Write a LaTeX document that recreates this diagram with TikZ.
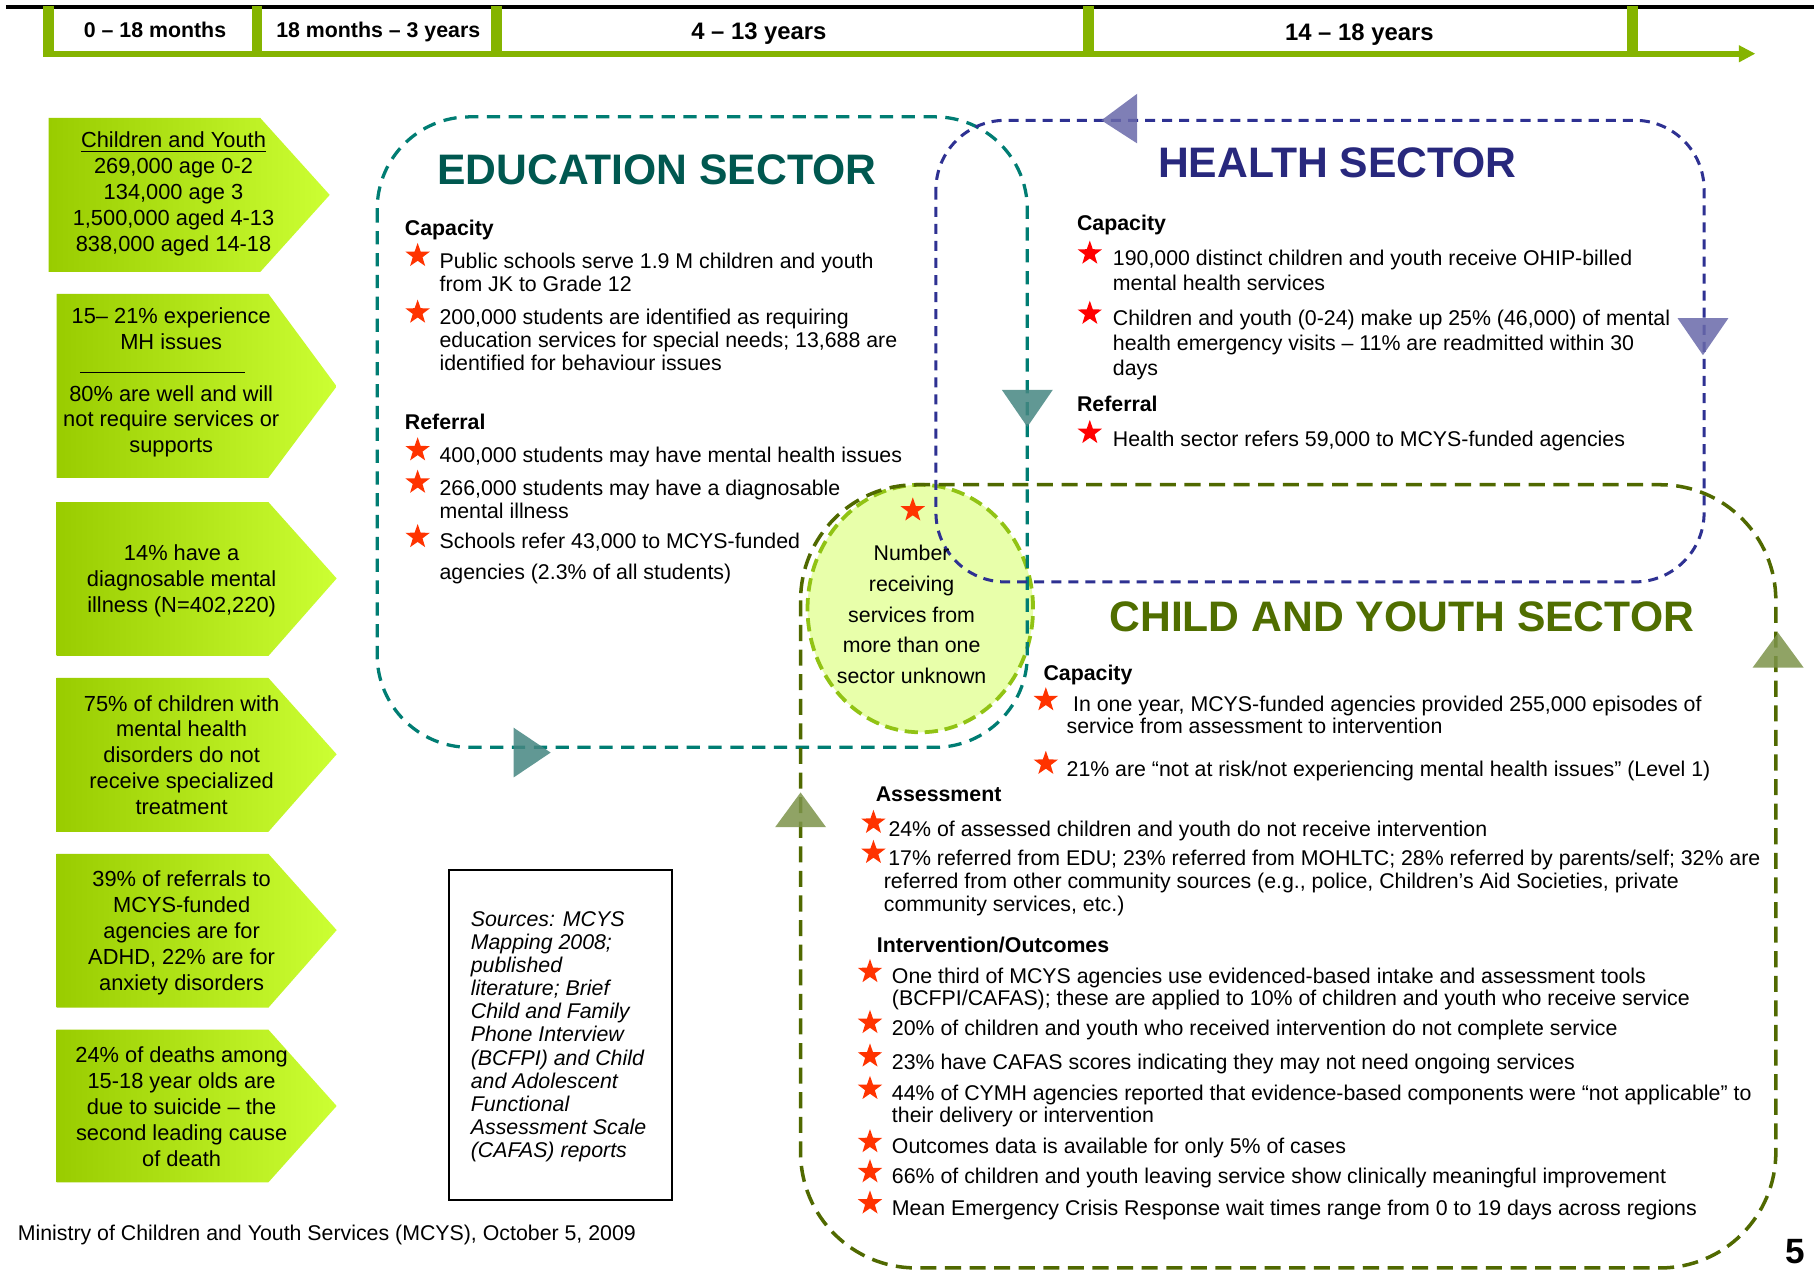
\documentclass[tikz,border=0pt]{standalone}
\usepackage{fontspec}
\setmainfont{Liberation Sans}
\usetikzlibrary{shapes.geometric}
\definecolor{tlgreen}{RGB}{133,180,0}
\definecolor{eduline}{RGB}{0,125,115}
\definecolor{edutitle}{RGB}{0,88,80}
\definecolor{edutri}{RGB}{70,135,130}
\definecolor{hline}{RGB}{46,49,146}
\definecolor{htitle}{RGB}{40,40,125}
\definecolor{htri}{RGB}{105,105,170}
\definecolor{cline}{RGB}{80,105,0}
\definecolor{ctitle}{RGB}{80,110,0}
\definecolor{ctri}{RGB}{125,148,75}
\definecolor{ellfill}{RGB}{232,255,170}
\definecolor{ellline}{RGB}{145,195,20}
\definecolor{stara}{RGB}{255,51,0}
\definecolor{starb}{RGB}{255,0,0}
\definecolor{arrowL}{RGB}{153,204,0}
\definecolor{arrowR}{RGB}{204,255,51}
\begin{document}
\begin{tikzpicture}[x=0.0162cm,y=-0.0162cm,
  txt/.style={inner sep=0pt,outer sep=0pt,anchor=north west,align=left,font=\fontsize{8.5}{9.2}\selectfont},
  ctxt/.style={inner sep=0pt,outer sep=0pt,anchor=north,align=center,font=\fontsize{8.7}{10.3}\selectfont},
  head/.style={inner sep=0pt,outer sep=0pt,anchor=base west,font=\fontsize{8.5}{10}\selectfont\bfseries},
  sectitle/.style={inner sep=0pt,outer sep=0pt,anchor=west,font=\fontsize{17}{20}\selectfont\bfseries},
  tlsmall/.style={inner sep=0pt,anchor=base,font=\fontsize{8.5}{10}\selectfont\bfseries},
  tlbig/.style={inner sep=0pt,anchor=base,font=\fontsize{9.5}{11}\selectfont\bfseries},
  bullet/.style={star,star points=5,star point ratio=2.5,inner sep=0pt,minimum size=10.2pt,fill=stara},
  larrow/.style={left color=arrowL,right color=arrowR},
  loopedu/.style={eduline,line width=1.3pt,dash pattern=on 5.3pt off 3.4pt,rounded corners=1.296cm},
  loophealth/.style={hline,line width=1.2pt,dash pattern=on 4pt off 2.8pt,rounded corners=0.972cm},
  loopchild/.style={cline,line width=1.4pt,dash pattern=on 6.4pt off 3.4pt,rounded corners=1.62cm},
  tri/.style={fill opacity=0.85}
]
\useasboundingbox (0,0) rectangle (1568,1098);
\fill[white] (0,0) rectangle (1568,1098);

% ---------- timeline ----------
\draw[black,line width=1.7pt] (5,6.2) -- (1568,6.2);
\draw[tlgreen,line width=2.4pt] (37,46.4) -- (1504,46.4);
\fill[tlgreen] (1503,39) -- (1517,46.4) -- (1503,54) -- cycle;
\foreach \tx in {42,222,429,941,1411}{
  \draw[tlgreen,line width=4.2pt] (\tx,5) -- (\tx,49);
}
\node[tlsmall] (t1) at (134,32.6) {0 – 18 months};
\node[tlsmall] (t2) at (327,32.6) {18 months – 3 years};
\node[tlbig] (t3) at (656,34.4) {4 – 13 years};
\node[tlbig] (t4) at (1175,34.9) {14 – 18 years};

% ---------- left arrows ----------
\shade[larrow] (42,102) -- (225,102) -- (285,168.5) -- (225,235) -- (42,235) -- cycle;
\shade[larrow] (49,254) -- (232,254) -- (291,334) -- (232,413) -- (49,413) -- cycle;
\shade[larrow] (49,434) -- (232,434) -- (291,500) -- (232,567) -- (49,567) -- cycle;
\shade[larrow] (49,586) -- (232,586) -- (291,652) -- (232,719) -- (49,719) -- cycle;
\shade[larrow] (49,738) -- (232,738) -- (291,804) -- (232,871) -- (49,871) -- cycle;
\shade[larrow] (49,890) -- (232,890) -- (291,956) -- (232,1022) -- (49,1022) -- cycle;

\node[ctxt] (b1) at (150,114) {\underline{Children and Youth}\\269,000 age 0-2\\134,000 age 3\\1,500,000 aged 4-13\\838,000 aged 14-18};
\node[ctxt] (b2a) at (148,266) {15– 21\% experience\\MH issues};
\draw[black,line width=0.6pt] (69,322) -- (212,322);
\node[ctxt] (b2b) at (148,333) {80\% are well and will\\not require services or\\supports};
\node[ctxt] (b3) at (157,471) {14\% have a\\diagnosable mental\\illness (N=402,220)};
\node[ctxt] (b4) at (157,601) {75\% of children with\\mental health\\disorders do not\\receive specialized\\treatment};
\node[ctxt] (b5) at (157,753) {39\% of referrals to\\MCYS-funded\\agencies are for\\ADHD, 22\% are for\\anxiety disorders};
\node[ctxt] (b6) at (157,905) {24\% of deaths among\\15-18 year olds are\\due to suicide – the\\second leading cause\\of death};

% ---------- sources box & footer ----------
\node[draw=black,line width=0.9pt,minimum width=3.127cm,minimum height=4.617cm,inner sep=0pt] (src) at (484.5,894.5) {};
\node[txt,font=\fontsize{8.5}{9.2}\selectfont\itshape] (srctext) at (407,788) {Sources: MCYS\\Mapping 2008;\\published\\literature; Brief\\Child and Family\\Phone Interview\\(BCFPI) and Child\\and Adolescent\\Functional\\Assessment Scale\\(CAFAS) reports};
\node[inner sep=0pt,anchor=base west,font=\fontsize{8.5}{10}\selectfont] (footer) at (15,1072.6) {Ministry of Children and Youth Services (MCYS), October 5, 2009};
\node[inner sep=0pt,font=\fontsize{14}{16}\selectfont\bfseries] (pagenum) at (1552,1082) {5};

% ---------- overlap ellipse ----------
\node[ellipse,fill=ellfill,draw=ellline,line width=1.5pt,dash pattern=on 5.3pt off 2.7pt,minimum width=3.159cm,minimum height=3.467cm,inner sep=0pt] (overlap) at (795.5,526) {};

% ---------- sector loops ----------
\draw[loopedu] (326,101) rectangle (888,646);
\draw[loophealth] (809,104) rectangle (1473,503);
\draw[loopchild] (692,419) rectangle (1535,1096);

% direction triangles
\fill[edutri,tri] (866,337) -- (910,337) -- (888,369) -- cycle;
\fill[edutri,tri] (444,629) -- (476,650.5) -- (444,672) -- cycle;
\fill[htri,tri] (952,104) -- (983,81) -- (983,124) -- cycle;
\fill[htri,tri] (1450,275) -- (1494,275) -- (1472,307) -- cycle;
\fill[ctri,tri] (1537,547) -- (1559,577) -- (1515,577) -- cycle;
\fill[ctri,tri] (692,685) -- (714,715) -- (670,715) -- cycle;

% ellipse content
\node[bullet] (ovstar) at (789,441) {};
\node[inner sep=0pt,anchor=north,align=center,font=\fontsize{8.5}{12.2}\selectfont] (ovtext) at (788,471) {Number\\receiving\\services from\\more than one\\sector unknown};

% ---------- education sector ----------
\node[sectitle,text=edutitle] (edutitle) at (378,147) {EDUCATION SECTOR};
\node[head] (educap) at (350,203.6) {Capacity};
\node[bullet] (es1) at (361,221) {};
\node[txt,font=\fontsize{8.5}{9.0}\selectfont] (e1) at (380,219) {Public schools serve 1.9 M children and youth\\from JK to Grade 12};
\node[bullet] (es2) at (361,270) {};
\node[txt] (e2) at (380,267) {200,000 students are identified as requiring\\education services for special needs; 13,688 are\\identified for behaviour issues};
\node[head] (eduref) at (350,371.4) {Referral};
\node[bullet] (es3) at (361,389) {};
\node[txt] (e3) at (380,386) {400,000 students may have mental health issues};
\node[bullet] (es4) at (361,417) {};
\node[txt,font=\fontsize{8.5}{9.0}\selectfont] (e4) at (380,415) {266,000 students may have a diagnosable\\mental illness};
\node[bullet] (es5) at (361,464) {};
\node[txt,font=\fontsize{8.5}{12.4}\selectfont] (e5) at (380,461) {Schools refer 43,000 to MCYS-funded\\agencies (2.3\% of all students)};

% ---------- health sector ----------
\node[sectitle,text=htitle] (htitle) at (1001,141) {HEALTH SECTOR};
\node[head] (hcap) at (931,199.6) {Capacity};
\node[bullet,fill=starb] (hs1) at (942,219) {};
\node[txt,font=\fontsize{8.5}{10.1}\selectfont] (h1) at (962,216) {190,000 distinct children and youth receive OHIP-billed\\mental health services};
\node[bullet,fill=starb] (hs2) at (942,271) {};
\node[txt,font=\fontsize{8.5}{9.9}\selectfont] (h2) at (962,268) {Children and youth (0-24) make up 25\% (46,000) of mental\\health emergency visits – 11\% are readmitted within 30\\days};
\node[head] (href) at (931,355.6) {Referral};
\node[bullet,fill=starb] (hs3) at (942,374) {};
\node[txt] (h3) at (962,373) {Health sector refers 59,000 to MCYS-funded agencies};

% ---------- child and youth sector ----------
\node[sectitle,text=ctitle] (ctitle) at (959,533) {CHILD AND YOUTH SECTOR};
\node[head] (ccap) at (902,588.6) {Capacity};
\node[bullet] (cs1) at (904,605) {};
\node[txt,font=\fontsize{8.5}{8.7}\selectfont] (c1) at (922,602) {\hspace{2.6pt}In one year, MCYS-funded agencies provided 255,000 episodes of\\service from assessment to intervention};
\node[bullet] (cs2) at (904,660) {};
\node[txt] (c2) at (922,658) {21\% are “not at risk/not experiencing mental health issues” (Level 1)};
\node[head] (cass) at (757,692.6) {Assessment};
\node[bullet] (as1) at (755,711) {};
\node[txt] (a1) at (768,710) {24\% of assessed children and youth do not receive intervention};
\node[bullet] (as2) at (755,737) {};
\node[txt] (a2) at (764,735) {\hspace{1.8pt}17\% referred from EDU; 23\% referred from MOHLTC; 28\% referred by parents/self; 32\% are\\referred from other community sources (e.g., police, Children’s Aid Societies, private\\community services, etc.)};
\node[head] (cint) at (758,823.6) {Intervention/Outcomes};
\node[bullet] (is1) at (752,840) {};
\node[txt,font=\fontsize{8.5}{8.7}\selectfont] (i1) at (771,837) {One third of MCYS agencies use evidenced-based intake and assessment tools\\(BCFPI/CAFAS); these are applied to 10\% of children and youth who receive service};
\node[bullet] (is2) at (752,884) {};
\node[txt] (i2) at (771,882) {20\% of children and youth who received intervention do not complete service};
\node[bullet] (is3) at (752,913) {};
\node[txt] (i3) at (771,911) {23\% have CAFAS scores indicating they may not need ongoing services};
\node[bullet] (is4) at (752,941) {};
\node[txt,font=\fontsize{8.5}{8.7}\selectfont] (i4) at (771,938) {44\% of CYMH agencies reported that evidence-based components were “not applicable” to\\their delivery or intervention};
\node[bullet] (is5) at (752,987) {};
\node[txt] (i5) at (771,984) {Outcomes data is available for only 5\% of cases};
\node[bullet] (is6) at (752,1013) {};
\node[txt] (i6) at (771,1010) {66\% of children and youth leaving service show clinically meaningful improvement};
\node[bullet] (is7) at (752,1040) {};
\node[txt] (i7) at (771,1037) {Mean Emergency Crisis Response wait times range from 0 to 19 days across regions};
\end{tikzpicture}
\end{document}
